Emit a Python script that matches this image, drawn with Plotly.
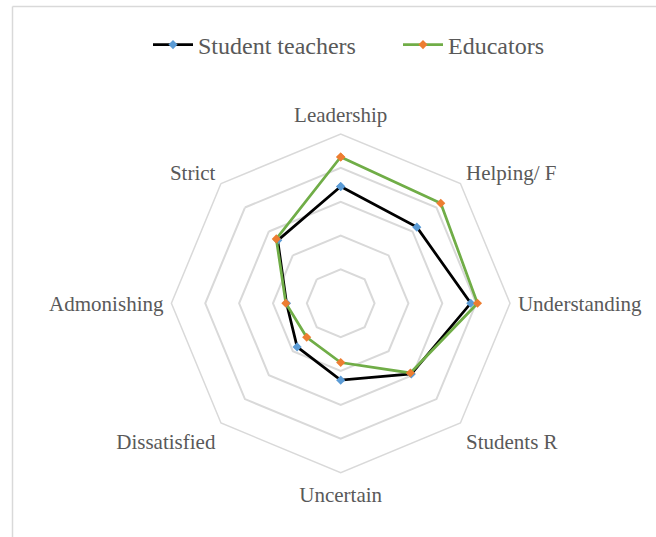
import plotly.graph_objects as go

categories = ["Leadership", "Helping/ F", "Understanding", "Students R",
              "Uncertain", "Dissatisfied", "Admonishing", "Strict"]
student_teachers = [3.45, 3.18, 3.84, 2.95, 2.27, 1.82, 1.60, 2.63]
educators = [4.32, 4.18, 4.04, 2.91, 1.75, 1.42, 1.62, 2.69]
series_names = ["Student teachers", "Educators"]

W, H = 656, 537
FONT = "Liberation Serif"
GRAY_TXT = "#595959"
GRID = "#d9d9d9"

def closed(vals):
    return list(vals) + [vals[0]]

fig = go.Figure()
fig.add_trace(go.Scatterpolar(
    r=closed(student_teachers), theta=closed(categories), name=series_names[0],
    mode="lines+markers", legend="legend", showlegend=True,
    line=dict(color="#000000", width=2.75),
    marker=dict(color="#5B9BD5", symbol="diamond", size=7),
))
fig.add_trace(go.Scatterpolar(
    r=closed(educators), theta=closed(categories), name=series_names[1],
    mode="lines+markers", legend="legend2", showlegend=True,
    line=dict(color="#70AD47", width=2.75),
    marker=dict(color="#ED7D31", symbol="diamond", size=7),
))

cx, cy, R = 340.7, 303.3, 169.3
legend_common = dict(orientation="h", xanchor="left", y=1 - 45 / H, yanchor="middle",
                     font=dict(size=24, family=FONT, color=GRAY_TXT), itemwidth=40,
                     bgcolor="rgba(0,0,0,0)", visible=True)
fig.update_layout(
    width=W, height=H,
    showlegend=True,
    margin=dict(l=0, r=0, t=0, b=0),
    paper_bgcolor="white",
    font=dict(family=FONT, color=GRAY_TXT, size=21),
    polar=dict(
        gridshape="linear",
        bgcolor="white",
        domain=dict(x=[(cx - R) / W, (cx + R) / W],
                    y=[(H - cy - R) / H, (H - cy + R) / H]),
        radialaxis=dict(range=[0, 5], tickvals=[1, 2, 3, 4, 5],
                        showticklabels=False, ticks="", showline=False,
                        gridcolor=GRID, gridwidth=1.5),
        angularaxis=dict(rotation=90, direction="clockwise",
                         showgrid=False, linecolor=GRID, linewidth=1.5,
                         ticks="outside", ticklen=3, tickcolor="rgba(0,0,0,0)",
                         tickfont=dict(size=21, family=FONT, color=GRAY_TXT)),
    ),
    legend=dict(x=148 / W, **legend_common),
    legend2=dict(x=398 / W, **legend_common),
    shapes=[
        dict(type="line", xref="paper", yref="paper", x0=12.5 / W, x1=12.5 / W,
             y0=0, y1=1 - 6.5 / H, line=dict(color=GRID, width=1.5)),
        dict(type="line", xref="paper", yref="paper", x0=12.5 / W, x1=1,
             y0=1 - 6.5 / H, y1=1 - 6.5 / H, line=dict(color=GRID, width=1.5)),
    ],
)

fig.write_html("out.html", config={"displayModeBar": False},
               post_script="document.body.style.margin='0';")
